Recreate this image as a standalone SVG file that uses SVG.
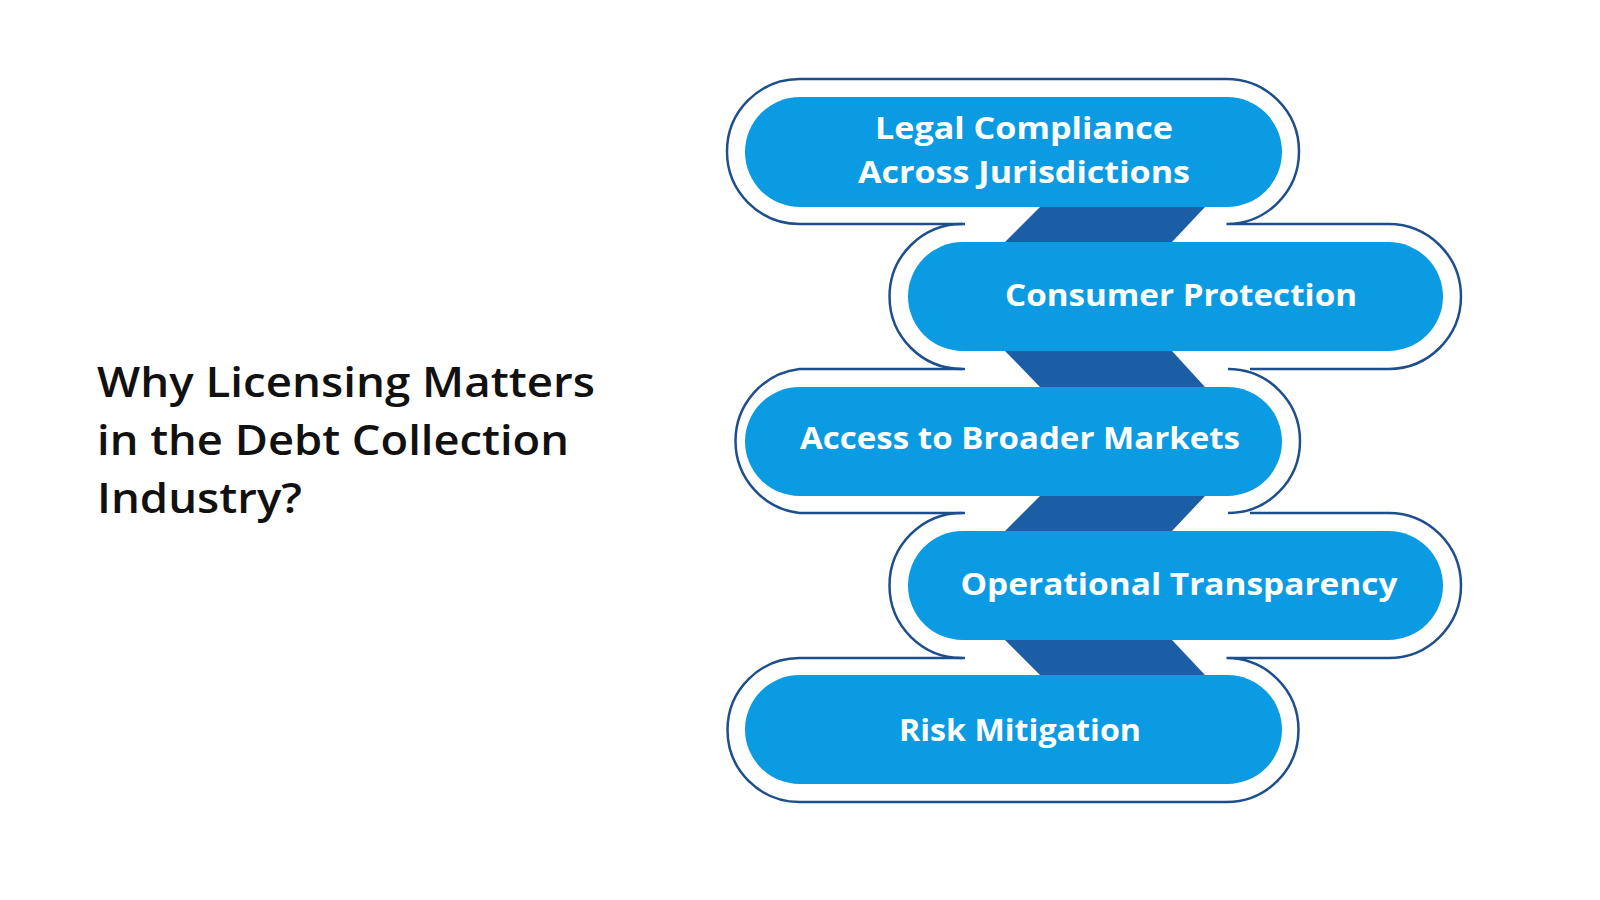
<svg xmlns="http://www.w3.org/2000/svg" width="1600" height="900" viewBox="0 0 1600 900">
<style>
.pill{fill:#0b9be3}
.ol{fill:none;stroke:#1c4f8c;stroke-width:2.5}
.con{fill:#1b5ea6}
.t{font-family:"Open Sans","DejaVu Sans",sans-serif;font-weight:700;font-size:31px;fill:#fff;text-anchor:middle}
.h{font-family:"Open Sans","DejaVu Sans",sans-serif;font-weight:600;font-size:41px;fill:#111}
</style>
<rect width="1600" height="900" fill="#fff"/>
<g id="title"><text class="h" x="97" y="397" textLength="498" lengthAdjust="spacingAndGlyphs">Why Licensing Matters</text><text class="h" x="97" y="455" textLength="472" lengthAdjust="spacingAndGlyphs">in the Debt Collection</text><text class="h" x="97" y="513" textLength="205" lengthAdjust="spacingAndGlyphs">Industry?</text></g>
<g id="connectors">
<polygon class="con" points="1040,207 1205,207 1172,242 1005,242"/>
<polygon class="con" points="1005,351 1172,351 1205,387 1040,387"/>
<polygon class="con" points="1040,496 1205,496 1172,531 1005,531"/>
<polygon class="con" points="1005,640 1172,640 1205,675 1040,675"/>
</g>
<g id="outlines">
<path class="ol" d="M965,224 H799.5 A72.5,72.5 0 0 1 799.5,79 H1226.5 A72.5,72.5 0 0 1 1226.5,224 H1250"/>
<path class="ol" d="M962,224 A72.5,72.5 0 0 0 962,369 M1250,224 H1388.5 A72.5,72.5 0 0 1 1388.5,369 H1250"/>
<path class="ol" d="M965,369 H799.5 A72.5,72.5 0 0 0 799.5,513 H965 M1228,369 A72,72 0 0 1 1228,513"/>
<path class="ol" d="M962,513 A72.5,72.5 0 0 0 962,658 M1250,513 H1388.5 A72.5,72.5 0 0 1 1388.5,658 H1250"/>
<path class="ol" d="M965,658 H799.5 A72,72 0 0 0 799.5,802 H1226.5 A72,72 0 0 0 1226.5,658 H1250"/>
</g>
<g id="n1"><rect class="pill" x="745" y="97" width="537" height="110" rx="55"/><text class="t" x="1024" y="139" textLength="298" lengthAdjust="spacingAndGlyphs">Legal Compliance</text><text class="t" x="1024" y="183" textLength="332" lengthAdjust="spacingAndGlyphs">Across Jurisdictions</text></g>
<g id="n2"><rect class="pill" x="908" y="242" width="535" height="109" rx="54.5"/><text class="t" x="1181" y="306" textLength="352" lengthAdjust="spacingAndGlyphs">Consumer Protection</text></g>
<g id="n3"><rect class="pill" x="745" y="387" width="537" height="109" rx="54.5"/><text class="t" x="1020" y="449" textLength="440" lengthAdjust="spacingAndGlyphs">Access to Broader Markets</text></g>
<g id="n4"><rect class="pill" x="908" y="531" width="535" height="109" rx="54.5"/><text class="t" x="1179" y="595" textLength="437" lengthAdjust="spacingAndGlyphs">Operational Transparency</text></g>
<g id="n5"><rect class="pill" x="745" y="675" width="537" height="109" rx="54.5"/><text class="t" x="1020" y="741" textLength="242" lengthAdjust="spacingAndGlyphs">Risk Mitigation</text></g>
</svg>
